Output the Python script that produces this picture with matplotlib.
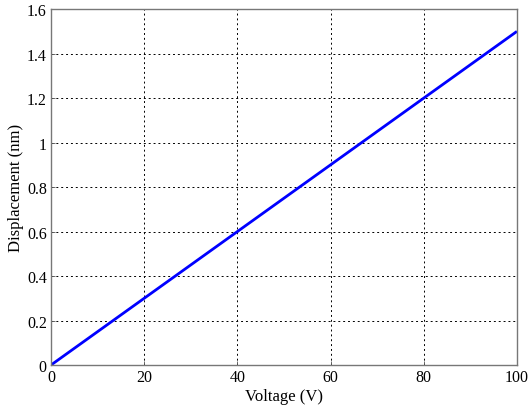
import matplotlib.pyplot as plt

voltage = [0, 20, 40, 60, 80, 100]
displacement = [0.0, 0.3, 0.6, 0.9, 1.2, 1.5]
x_ticks = [0, 20, 40, 60, 80, 100]
y_ticks = [0, 0.2, 0.4, 0.6, 0.8, 1, 1.2, 1.4, 1.6]
y_labels = ["0", "0.2", "0.4", "0.6", "0.8", "1", "1.2", "1.4", "1.6"]

plt.rcParams["font.family"] = ["Liberation Serif", "DejaVu Serif"]

fig = plt.figure(figsize=(5.28, 4.06), dpi=100)
ax = fig.add_axes([0.0966, 0.0985, 0.8824, 0.8765])

ax.plot(voltage, displacement, color="#0000ff", lw=2.0, solid_capstyle="butt")

ax.set_xlim(0, 100)
ax.set_ylim(0, 1.6)
ax.set_xticks(x_ticks)
ax.set_yticks(y_ticks)
ax.set_yticklabels(y_labels)
ax.tick_params(direction="in", length=3, width=0.6, labelsize=11.5, pad=3,
               colors="#555555", labelcolor="black")
ax.grid(True, color="black", linestyle=(0, (2, 3)), linewidth=0.7)

for spine in ax.spines.values():
    spine.set_color("#777777")
    spine.set_linewidth(1.0)

ax.set_xlabel("Voltage (V)", fontsize=12, labelpad=2)
ax.set_ylabel("Displacement (nm)", fontsize=12, labelpad=2)

fig.savefig("out.png", dpi=100)
